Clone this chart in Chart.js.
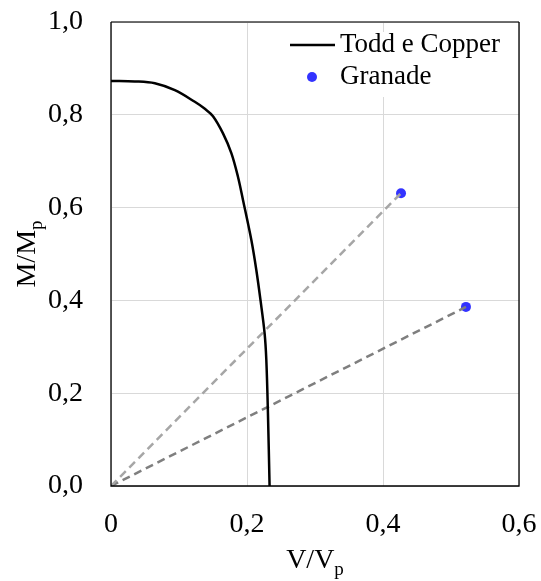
<!DOCTYPE html>
<html><head><meta charset="utf-8">
<script src="https://cdn.jsdelivr.net/npm/chart.js@4/dist/chart.umd.min.js"></script>
<style>html,body{margin:0;padding:0;background:#fff;}#wrap{width:541px;height:581px;}</style>
</head><body><div id="wrap"><canvas id="c" width="541" height="581"></canvas></div>
<script>
// ---- data ----
const toddV = [0, 0.035, 0.0645, 0.0939, 0.1232, 0.138, 0.150, 0.1647, 0.1771, 0.1867, 0.1941, 0.2064, 0.2137, 0.2198, 0.2259, 0.2284, 0.2308, 0.2332];
const toddM = [0.873, 0.872, 0.868, 0.853, 0.828, 0.813, 0.797, 0.760, 0.717, 0.6666, 0.6164, 0.530, 0.4655, 0.401, 0.329, 0.272, 0.157, 0];
const granadeV = [0.4265, 0.522];
const granadeM = [0.631, 0.386];
const xTicks = [0, 0.2, 0.4, 0.6];
const yTicks = [0, 0.2, 0.4, 0.6, 0.8, 1.0];
const seriesNames = ['Todd e Copper', 'Granade'];
const xTitle = ['V/V', 'p'];
const yTitle = ['M/M', 'p'];

const FONT = '"Liberation Serif", "Times New Roman", serif';
const fmt = v => v.toFixed(1).replace('.', ',');

const toddData = toddV.map((v, i) => ({x: v, y: toddM[i]}));
const granadeData = granadeV.map((v, i) => ({x: v, y: granadeM[i]}));
const rayColors = ['#a6a6a6', '#7f7f7f'];
const rays = granadeData.map((p, i) => ({
  type: 'scatter', label: 'ray' + i, data: [{x: 0, y: 0}, p], showLine: true,
  borderColor: rayColors[i], borderWidth: 2.5, borderDash: [8, 5], pointRadius: 0, fill: false
}));

const overlay = {
  id: 'overlay',
  afterDatasetsDraw(chart) {
    const ctx = chart.ctx, a = chart.chartArea;
    ctx.save();
    // legend
    ctx.fillStyle = '#fff';
    ctx.fillRect(286, 32, 226, 65);
    ctx.strokeStyle = '#000'; ctx.lineWidth = 2.5;
    ctx.beginPath(); ctx.moveTo(290, 45); ctx.lineTo(335, 45); ctx.stroke();
    ctx.fillStyle = '#3333ff';
    ctx.beginPath(); ctx.arc(312, 77, 5, 0, Math.PI * 2); ctx.fill();
    ctx.fillStyle = '#000';
    ctx.font = '27px ' + FONT;
    ctx.textBaseline = 'middle'; ctx.textAlign = 'left';
    ctx.fillText(seriesNames[0], 340, 45);
    ctx.fillText(seriesNames[1], 340, 77);
    // border
    ctx.lineWidth = 1.3;
    ctx.strokeStyle = '#404040';
    ctx.beginPath(); ctx.moveTo(a.left, a.top); ctx.lineTo(a.right, a.top); ctx.stroke();
    ctx.strokeStyle = '#000';
    ctx.beginPath(); ctx.moveTo(a.right, a.top); ctx.lineTo(a.right, a.bottom); ctx.lineTo(a.left, a.bottom); ctx.lineTo(a.left, a.top); ctx.stroke();
    // axis titles
    const big = '28px ' + FONT, small = '19px ' + FONT;
    ctx.textBaseline = 'alphabetic'; ctx.textAlign = 'left';
    ctx.font = big; const w1 = ctx.measureText(xTitle[0]).width;
    ctx.font = small; const w2 = ctx.measureText(xTitle[1]).width;
    let cx = (a.left + a.right) / 2, x0 = cx - (w1 + w2) / 2;
    ctx.font = big; ctx.fillText(xTitle[0], x0, 568);
    ctx.font = small; ctx.fillText(xTitle[1], x0 + w1, 575);
    ctx.font = big; const h1 = ctx.measureText(yTitle[0]).width;
    ctx.font = small; const h2 = ctx.measureText(yTitle[1]).width;
    const cy = (a.top + a.bottom) / 2;
    ctx.translate(35, cy); ctx.rotate(-Math.PI / 2);
    const y0 = -(h1 + h2) / 2;
    ctx.font = big; ctx.fillText(yTitle[0], y0, 0);
    ctx.font = small; ctx.fillText(yTitle[1], y0 + h1, 7);
    ctx.restore();
  }
};

new Chart(document.getElementById('c'), {
  type: 'scatter',
  data: {
    datasets: [
      {label: seriesNames[0], data: toddData, showLine: true, borderColor: '#000', borderWidth: 2.5, pointRadius: 0, tension: 0.35, fill: false},
      ...rays,
      {label: seriesNames[1], data: granadeData, showLine: false, pointRadius: 5, pointBackgroundColor: '#3333ff', pointBorderWidth: 0, pointBorderColor: '#3333ff'}
    ]
  },
  options: {
    responsive: false, animation: false, devicePixelRatio: 1,
    layout: {padding: {top: 22, right: 22, left: 0, bottom: 0}},
    plugins: {legend: {display: false}, tooltip: {enabled: false}},
    scales: {
      x: {
        type: 'linear', min: 0, max: 0.6, position: 'bottom',
        afterBuildTicks: s => { s.ticks = xTicks.map(v => ({value: v})); },
        afterFit: s => { s.height = 95; s.paddingLeft = 0; s.paddingRight = 0; },
        grid: {color: '#d9d9d9', lineWidth: 1, drawTicks: false},
        border: {display: false},
        ticks: {color: '#000', font: {family: FONT, size: 28}, padding: 22, maxRotation: 0,
          callback: v => v === 0 ? '0' : fmt(v)}
      },
      y: {
        type: 'linear', min: 0, max: 1,
        afterBuildTicks: s => { s.ticks = yTicks.map(v => ({value: v})); },
        afterFit: s => { s.width = 111; s.paddingTop = 0; s.paddingBottom = 0; },
        grid: {color: '#d9d9d9', lineWidth: 1, drawTicks: false},
        border: {display: false},
        ticks: {color: '#000', font: {family: FONT, size: 28}, padding: 28, callback: v => fmt(v)}
      }
    }
  },
  plugins: [overlay]
});
</script></body></html>
